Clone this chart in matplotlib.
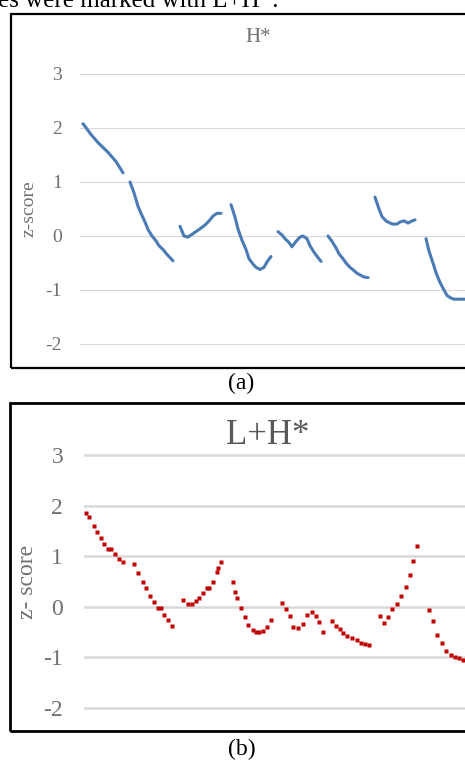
import numpy as np
import matplotlib.pyplot as plt
from matplotlib.patches import Rectangle

nan = np.nan

# panel (a): H* pitch contour, frames (gaps = unvoiced)
h_t = [0.75, 2.75, 4.5, 7.0, 9.0, 10.75, nan,
       12.5, 13.5, 14.5, 15.25, 16.25, 17, 18, 19, 19.75, 20.75, 21.5, 22.5, 23.25, nan,
       25, 26, 27, 28, 28.75, 29.75, 30.5, 31.5, 32.5, 33.25, 34.25, 35.25, nan,
       37.75, 38.75, 39.5, 40.5, 41.5, 42.25, 43.25, 44, 45, 46, 46.75, 47.75, nan,
       49.5, 50.5, 51.25, 52.25, 53, 54, 55, 55.75, 56.75, 57.5, 58.5, 59.5, 60.25, nan,
       62, 63, 64, 64.75, 65.75, 66.5, 67.5, 68.5, 69.25, 70.25, 71, 72, nan,
       73.75, 74.75, 75.5, 76.5, 77.5, 78.25, 79.25, 80, 81, 82, 82.75, 83.75, nan,
       86.5, 87.25, 88.25, 89, 90, 91, 91.75, 92.75, 93.5, 94.5, 95.5, 96.5]
h_z = [2.08, 1.88, 1.73, 1.55, 1.38, 1.17, nan,
       1.0, 0.8, 0.55, 0.42, 0.26, 0.12, 0.0, -0.09, -0.18, -0.25, -0.32, -0.4, -0.46, nan,
       0.18, 0.0, -0.02, 0.03, 0.07, 0.12, 0.16, 0.22, 0.3, 0.37, 0.42, 0.42, nan,
       0.58, 0.35, 0.13, -0.08, -0.25, -0.42, -0.52, -0.58, -0.62, -0.58, -0.48, -0.38, nan,
       0.08, 0.02, -0.05, -0.12, -0.2, -0.1, -0.02, 0.0, -0.05, -0.18, -0.3, -0.4, -0.47, nan,
       0.0, -0.1, -0.22, -0.33, -0.42, -0.5, -0.58, -0.64, -0.69, -0.73, -0.76, -0.77, nan,
       0.72, 0.5, 0.36, 0.28, 0.24, 0.22, 0.22, 0.26, 0.28, 0.24, 0.27, 0.3, nan,
       -0.05, -0.28, -0.5, -0.68, -0.86, -1.0, -1.1, -1.15, -1.17, -1.17, -1.17, -1.17]

# panel (b): L+H* pitch contour
lh_t = [0.4, 1.3, 2.4, 3.25, 4.2, 5.1, 6.1, 6.75, 7.75, 8.7, 9.75,
        12.6, 13.6, 14.7, 15.5, 16.5, 17.4, 18.6, 19.25, 20, 20.9, 21.9,
        24.8, 25.9, 26.9, 27.9, 28.8, 29.75, 30.8, 31.3, 32.3, 33.3, 33.6, 34.25,
        37.2, 37.75, 38.2, 39.2, 40.25, 41.1, 42.2, 43, 43.8, 44.7, 45.7, 46.7,
        49.4, 50.5, 51.5, 52.3, 53.4, 54.7, 55.8, 56.9, 58, 58.8, 59.8,
        61.9, 63, 64, 64.8, 65.8, 66.9, 68.2, 69.2, 70.25, 71.3,
        74, 75.1, 76.1, 77.1, 78.2, 79.2, 80.4, 81.4, 82.3, 83.3,
        86.25, 87.2, 88.3, 89.4, 90.5, 91.7, 92.75, 93.8, 94.8, 95.75]
lh_z = [1.86, 1.78, 1.6, 1.48, 1.37, 1.25, 1.15, 1.15, 1.05, 0.95, 0.88,
        0.85, 0.67, 0.5, 0.37, 0.22, 0.09, -0.03, -0.03, -0.16, -0.27, -0.38,
        0.14, 0.05, 0.05, 0.11, 0.17, 0.27, 0.37, 0.37, 0.49, 0.69, 0.76, 0.89,
        0.5, 0.3, 0.17, -0.03, -0.2, -0.36, -0.46, -0.49, -0.5, -0.47, -0.39, -0.26,
        0.07, -0.05, -0.19, -0.39, -0.42, -0.34, -0.16, -0.1, -0.18, -0.3, -0.49,
        -0.29, -0.38, -0.44, -0.51, -0.57, -0.61, -0.66, -0.71, -0.74, -0.76,
        -0.19, -0.33, -0.21, -0.04, 0.06, 0.21, 0.39, 0.62, 0.91, 1.2,
        -0.06, -0.29, -0.56, -0.72, -0.87, -0.95, -0.99, -1.02, -1.05, -1.07]

yticks = [-2, -1, 0, 1, 2, 3]

plt.rcParams['axes.unicode_minus'] = False

W, H = 465, 761
fig = plt.figure(figsize=(W / 100, H / 100), dpi=100)


def px_axes(left, top, right, bottom):
    return fig.add_axes([left / W, 1 - bottom / H, (right - left) / W, (bottom - top) / H])


def style(ax, grid_lw, tick_size, pad):
    ax.set_xlim(0, 100)
    ax.set_ylim(-2.5, 3.5)
    ax.set_yticks(yticks)
    ax.set_xticks([])
    for s in ax.spines.values():
        s.set_visible(False)
    ax.yaxis.grid(True, color='#d9d9d9', lw=grid_lw)
    ax.set_axisbelow(True)
    ax.tick_params(axis='y', length=0, pad=pad, labelsize=tick_size, labelcolor='#707070')
    for lb in ax.get_yticklabels():
        lb.set_family('Liberation Serif')
    ax.patch.set_alpha(0)


# top text line (cut off in the source)
fig.text(-2 / W, 1 - 7.3 / H, "es were marked with L+H*.", fontsize=18,
         family='Liberation Serif', va='baseline', ha='left')

# frames
fig.patches.append(Rectangle((11 / W, 1 - 368 / H), 1.2, (368 - 14) / H, transform=fig.transFigure,
                             fill=False, ec='black', lw=1.6))
fig.patches.append(Rectangle((10 / W, 1 - 731 / H), 1.2, (731 - 403) / H, transform=fig.transFigure,
                             fill=False, ec='black', lw=2.0))

# (a)
ax1 = px_axes(80, 47, 480, 371)
style(ax1, 0.8, 14, 13)
ax1.plot(h_t, h_z, color='#4a7bb5', lw=2.2, solid_capstyle='round')
ax1.set_ylabel('z-score', fontsize=14, family='Liberation Serif', color='#707070', labelpad=6)
fig.text(258 / W, 1 - 37 / H, 'H*', fontsize=15, family='Liberation Serif',
         color='#707070', ha='center', va='center')
fig.text(241 / W, 1 - 383 / H, '(a)', fontsize=17, family='Liberation Serif',
         ha='center', va='center')

# (b)
ax2 = px_axes(84, 429.8, 484, 733.2)
style(ax2, 1.8, 17, 15)
ax2.plot(lh_t, lh_z, ls='none', marker='s', ms=2.4, color='#c00000', mec='none')
ax2.set_ylabel('z- score', fontsize=17, family='Liberation Serif', color='#707070', labelpad=4)
fig.text(268 / W, 1 - 435 / H, 'L+H*', fontsize=25, family='Liberation Serif',
         color='#595959', ha='center', va='center')
fig.text(242 / W, 1 - 749 / H, '(b)', fontsize=17, family='Liberation Serif',
         ha='center', va='center')

fig.savefig('out.png', dpi=100)
